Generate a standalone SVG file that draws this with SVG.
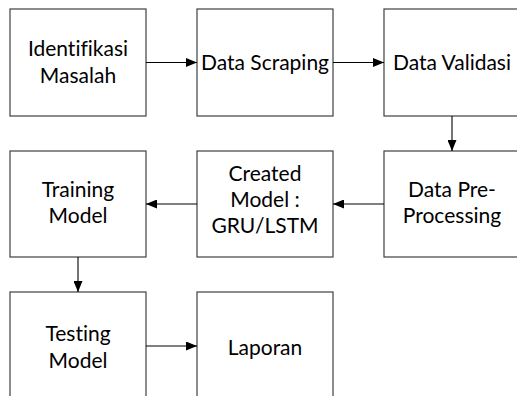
<svg xmlns="http://www.w3.org/2000/svg" width="517" height="396" viewBox="0 0 517 396">
  <defs>
    <marker id="arrow" markerWidth="11" markerHeight="9" refX="11" refY="4.5" orient="auto" markerUnits="userSpaceOnUse">
      <path d="M0,0 L11,4.5 L0,9 Z" fill="#000"/>
    </marker>
    <style>
      .box { fill: #fff; stroke: #404040; stroke-width: 1.2; }
      .lbl { font-family: Lato, "Liberation Sans", sans-serif; font-size: 21px; fill: #000; text-anchor: middle; font-variant-ligatures: none; font-feature-settings: "liga" 0; }
      .edge { fill: none; stroke: #000; stroke-width: 1.1; marker-end: url(#arrow); }
    </style>
  </defs>
  <rect width="517" height="396" fill="#fff"/>

  <g id="identifikasi-masalah">
    <rect class="box" x="10" y="9" width="136" height="107"/>
    <text class="lbl" x="78" y="56">Identifikasi</text>
    <text class="lbl" x="78" y="83">Masalah</text>
  </g>
  <g id="data-scraping">
    <rect class="box" x="197" y="9" width="136" height="107"/>
    <text class="lbl" x="265" y="70">Data Scraping</text>
  </g>
  <g id="data-validasi">
    <rect class="box" x="384" y="9" width="136" height="107"/>
    <text class="lbl" x="452" y="70">Data Validasi</text>
  </g>
  <g id="data-preprocessing">
    <rect class="box" x="384" y="151" width="136" height="106"/>
    <text class="lbl" x="452" y="197">Data Pre-</text>
    <text class="lbl" x="452" y="223">Processing</text>
  </g>
  <g id="created-model">
    <rect class="box" x="197" y="151" width="136" height="106"/>
    <text class="lbl" x="265" y="181">Created</text>
    <text class="lbl" x="265" y="207">Model :</text>
    <text class="lbl" x="265" y="233">GRU/LSTM</text>
  </g>
  <g id="training-model">
    <rect class="box" x="10" y="151" width="136" height="106"/>
    <text class="lbl" x="78" y="197">Training</text>
    <text class="lbl" x="78" y="223">Model</text>
  </g>
  <g id="testing-model">
    <rect class="box" x="10" y="292" width="136" height="110"/>
    <text class="lbl" x="78" y="341">Testing</text>
    <text class="lbl" x="78" y="368">Model</text>
  </g>
  <g id="laporan">
    <rect class="box" x="197" y="292" width="136" height="110"/>
    <text class="lbl" x="265" y="355">Laporan</text>
  </g>

  <g id="connectors">
    <line class="edge" x1="146" y1="62.5" x2="197" y2="62.5"/>
    <line class="edge" x1="333" y1="62.5" x2="384" y2="62.5"/>
    <line class="edge" x1="452" y1="116" x2="452" y2="151"/>
    <line class="edge" x1="384" y1="204" x2="333" y2="204"/>
    <line class="edge" x1="197" y1="204" x2="146" y2="204"/>
    <line class="edge" x1="78" y1="257" x2="78" y2="292"/>
    <line class="edge" x1="146" y1="346" x2="197" y2="346"/>
  </g>
</svg>
